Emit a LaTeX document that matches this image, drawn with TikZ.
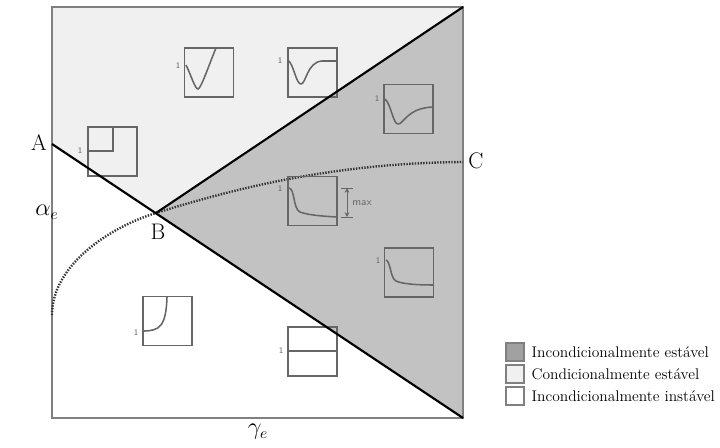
\documentclass[tikz,border=0pt]{standalone}
\usepackage{tikz}
\usetikzlibrary{arrows.meta,positioning}
\definecolor{stabdark}{gray}{0.76}
\definecolor{stablight}{gray}{0.94}
\definecolor{legdark}{gray}{0.63}
\definecolor{framegray}{gray}{0.5}
\definecolor{insetgray}{gray}{0.4}
\tikzset{
    frameline/.style={draw=framegray,line width=1.2pt},
    boundline/.style={line width=1.5pt},
    limitcurve/.style={draw=black!80,line width=1.7pt,dash pattern=on 1pt off 1pt},
    inset/.style={rectangle,draw=insetgray,line width=1.1pt,minimum size=1.225cm,inner sep=0pt},
    response/.style={draw=insetgray,line width=1.1pt},
    unity/.style={font=\sffamily\fontsize{6}{7}\selectfont,text=insetgray,inner sep=0pt},
    pointlabel/.style={font=\fontsize{16}{18}\selectfont},
    maxline/.style={{Stealth[length=1.2mm,width=1.2mm]}-{Stealth[length=1.2mm,width=1.2mm]},draw=insetgray,line width=0.7pt},
    legbox/.style={rectangle,draw=framegray,line width=0.8pt,minimum size=0.45cm,inner sep=0pt},
    legtext/.style={font=\fontsize{11}{13}\selectfont,inner sep=0pt,anchor=west}
}
\begin{document}
\begin{tikzpicture}[x=0.025cm,y=-0.025cm]
    \useasboundingbox (0,0) rectangle (720,447);
    \coordinate (TL) at (52,7);
    \coordinate (TR) at (463,7);
    \coordinate (BR) at (463,418);
    \coordinate (A) at (52,144);
    \coordinate (B) at (156,213);
    \coordinate (C) at (463,162);
    \coordinate (D) at (52,315);
    \fill[stablight] (TL) -- (TR) -- (B) -- (A) -- cycle;
    \fill[stabdark] (TR) -- (BR) -- (B) -- cycle;
    \draw[frameline] (TL) rectangle (BR);
    \draw[limitcurve] (D) .. controls (52,265) and (110,227) .. (B) .. controls (230,190) and (330,163) .. (C);
    \node[pointlabel] (Alab) at (39,143) {A};
    \node[pointlabel] (Blab) at (158,232) {B};
    \node[pointlabel] (Clab) at (476,161) {C};
    \node[pointlabel] (alpha) at (47,212) {$\alpha_e$};
    \node[pointlabel] (gamma) at (258,432) {$\gamma_e$};
    % respostas
    \node[inset] (step) at (112.5,151.5) {};
    \node[unity] (step1) at (80,151) {1};
    \draw[response] (88,151) -- (113,151) -- (113,127);
    \node[inset] (vee) at (209,72.5) {};
    \node[unity] (vee1) at (178,66) {1};
    \draw[response] (186,65) .. controls (191,75) and (195,89) .. (198,89) .. controls (201,89) and (210,62) .. (216,48);
    \node[inset] (dipa) at (312.5,72.5) {};
    \node[unity] (dipa1) at (280,61) {1};
    \draw[response] (288,60) .. controls (294,65) and (296,84) .. (301,84) .. controls (306,84) and (307,62) .. (322,61) -- (337,61);
    \node[inset] (dipb) at (408.5,109) {};
    \node[unity] (dipb1) at (377,99) {1};
    \draw[response] (385,99) .. controls (391,104) and (393,124) .. (398,124) .. controls (404,124) and (407,108) .. (433,107);
    \node[inset] (decay) at (312.5,201) {};
    \node[unity] (decay1) at (280,189) {1};
    \draw[response] (289,188) .. controls (295,189) and (293,209) .. (300,212) .. controls (308,215) and (320,216) .. (337,217);
    \coordinate (maxtop) at (347,188);
    \coordinate (maxbot) at (347,217);
    \draw[maxline] (maxtop) -- (maxbot);
    \draw[response,line width=0.7pt] ([xshift=-4.5]maxtop) -- ([xshift=4.5]maxtop);
    \draw[response,line width=0.7pt] ([xshift=-4.5]maxbot) -- ([xshift=4.5]maxbot);
    \node[font=\sffamily\fontsize{7.5}{9}\selectfont,text=insetgray,inner sep=0pt] (maxlab) at (362,203) {max};
    \node[inset] (decayb) at (409,272.5) {};
    \node[unity] (decayb1) at (378,261) {1};
    \draw[response] (386,260) .. controls (391,262) and (390,278) .. (396,281) .. controls (402,284) and (418,285) .. (433,285);
    \node[inset] (blow) at (167.5,321) {};
    \node[unity] (blow1) at (136,333) {1};
    \draw[response] (143,331) .. controls (160,331) and (166,326) .. (167,297);
    \node[inset] (flat) at (312.5,351.5) {};
    \node[unity] (flat1) at (281,351) {1};
    \draw[response] (288,351) -- (337,351);
    \draw[boundline] (A) -- (BR);
    \draw[boundline] (B) -- (TR);
    % legenda
    \node[legbox,fill=legdark] (legstab) at (515,352) {};
    \node[legtext,right=1.7mm of legstab] (legstabtxt) {Incondicionalmente estável};
    \node[legbox,fill=stablight] (legcond) at (515,374) {};
    \node[legtext,right=1.7mm of legcond] (legcondtxt) {Condicionalmente estável};
    \node[legbox,fill=white] (leginst) at (515,396) {};
    \node[legtext,right=1.7mm of leginst] (leginsttxt) {Incondicionalmente instável};
\end{tikzpicture}
\end{document}
